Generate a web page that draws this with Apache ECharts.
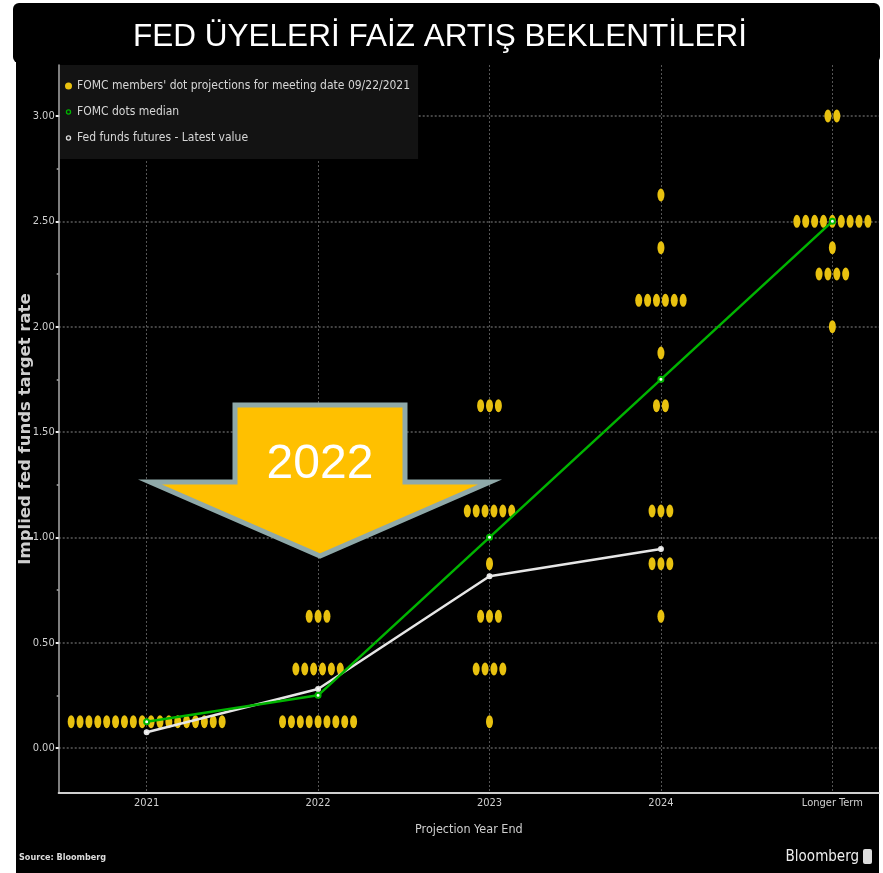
<!DOCTYPE html>
<html>
<head>
<meta charset="utf-8">
<script src="https://cdn.jsdelivr.net/npm/echarts@6/dist/echarts.min.js"></script>
<style>
  html, body { margin: 0; padding: 0; background: #fff; }
  #chart { width: 883px; height: 873px; }
</style>
</head>
<body>
<div id="chart"></div>
<script>
// categories and ticks
const categories = ['2021', '2022', '2023', '2024', 'Longer Term'];
const categoryIdx = [0, 1, 2, 3, 4];
const yTicks = [0, 0.5, 1, 1.5, 2, 2.5, 3];
const yMinorTicks = [0.25, 0.75, 1.25, 1.75, 2.25, 2.75];

// FOMC dot plot: [rate, number of dots] per projection year
const dots2021 = [[0.125, 18]];
const dots2022 = [[0.125, 9], [0.375, 6], [0.625, 3]];
const dots2023 = [[0.125, 1], [0.375, 4], [0.625, 3], [0.875, 1], [1.125, 6], [1.625, 3]];
const dots2024 = [[0.625, 1], [0.875, 3], [1.125, 3], [1.625, 2], [1.875, 1], [2.125, 6], [2.375, 1], [2.625, 1]];
const dotsLonger = [[2.0, 1], [2.25, 4], [2.375, 1], [2.5, 9], [3.0, 2]];

// lines
const medianDots = [0.125, 0.25, 1.0, 1.75, 2.5];
const futuresLatest = [0.075, 0.28, 0.815, 0.945];

const DOTS_NAME = "FOMC members' dot projections for meeting date 09/22/2021";
const MEDIAN_NAME = 'FOMC dots median';
const FUTURES_NAME = 'Fed funds futures - Latest value';

const NARROW = "'Liberation Sans Narrow', 'DejaVu Sans Condensed', sans-serif";
const YELLOW = '#e8c10f';
const GREEN = '#00b400';
const LABEL = '#cfcfcf';

// spread dots of one row side by side around the category
const DOT_STEP = 0.0518;
const dotPoints = [];
[dots2021, dots2022, dots2023, dots2024, dotsLonger].forEach((rows, ci) => {
  rows.forEach(([rate, n]) => {
    for (let i = 0; i < n; i++) {
      dotPoints.push([ci + (i - (n - 1) / 2) * DOT_STEP, rate]);
    }
  });
});

// small ring for the legend (corners keep the box at 7x12)
const smallRing = 'path://M0,0M7,12M3.5,3.3a2.7,2.7,0,1,1,0,5.4a2.7,2.7,0,1,1,0,-5.4zM3.5,4.6a1.4,1.4,0,1,0,0,2.8a1.4,1.4,0,1,0,0,-2.8z';

const chart = echarts.init(document.getElementById('chart'));
chart.setOption({
  animation: false,
  backgroundColor: '#fff',
  grid: { left: 58.7, right: 4, top: 65, bottom: 80 },
  legend: {
    orient: 'vertical',
    left: 60,
    top: 65,
    backgroundColor: '#131313',
    padding: [15, 8, 15, 5],
    itemGap: 14,
    itemWidth: 7,
    itemHeight: 12,
    textStyle: { color: '#d6d6d6', fontFamily: NARROW, fontSize: 12 },
    data: [
      { name: DOTS_NAME, icon: 'circle', itemStyle: { color: YELLOW } },
      { name: MEDIAN_NAME, icon: smallRing, itemStyle: { color: GREEN, borderWidth: 0 } },
      { name: FUTURES_NAME, icon: smallRing, itemStyle: { color: '#ddd', borderWidth: 0 } }
    ]
  },
  xAxis: {
    type: 'value',
    min: -0.513,
    max: 4.272,
    name: 'Projection Year End',
    nameLocation: 'middle',
    nameGap: 30,
    nameTextStyle: { color: LABEL, fontFamily: NARROW, fontSize: 12.5 },
    axisLine: { onZero: false, lineStyle: { color: '#cfcfcf', width: 2 } },
    axisTick: { show: false, customValues: categoryIdx },
    axisLabel: {
      customValues: categoryIdx,
      formatter: v => categories[Math.round(v)],
      color: LABEL, fontFamily: NARROW, fontSize: 11, margin: 5
    },
    splitLine: { show: true, lineStyle: { color: '#555', width: 1, type: [2, 2] } }
  },
  yAxis: [
    {
      type: 'value',
      min: -0.2136,
      max: 3.242,
      name: 'Implied fed funds target rate',
      nameLocation: 'middle',
      nameRotate: 90,
      nameGap: 24,
      nameMoveOverlap: false,
      nameTextStyle: { color: LABEL, fontFamily: 'DejaVu Sans', fontSize: 16.5, fontWeight: 'bold' },
      axisLine: { show: true, onZero: false, lineStyle: { color: '#aaa', width: 1.5 } },
      axisTick: { show: true, customValues: yTicks, length: 3, lineStyle: { color: '#eee', width: 2 } },
      axisLabel: {
        customValues: yTicks,
        formatter: v => v.toFixed(2),
        color: LABEL, fontFamily: NARROW, fontSize: 11, margin: 4
      },
      splitLine: { show: true, lineStyle: { color: '#5a5a5a', width: 1.5, type: [2, 2] } }
    },
    {
      type: 'value',
      position: 'left',
      min: -0.2136,
      max: 3.242,
      axisLine: { show: false, onZero: false },
      axisTick: { show: true, customValues: yMinorTicks, length: 2, lineStyle: { color: '#aaa', width: 1.5 } },
      axisLabel: { show: false },
      splitLine: { show: false }
    }
  ],
  graphic: [
    { type: 'rect', z: -10, silent: true, shape: { x: 16, y: 58, width: 863, height: 815 }, style: { fill: '#000' } },
    { type: 'rect', z: -9, silent: true, shape: { x: 13, y: 3, width: 867, height: 60, r: 6 }, style: { fill: '#000' } },
    {
      type: 'text', z: 10, x: 440, y: 37,
      style: { text: 'FED ÜYELERİ FAİZ ARTIŞ BEKLENTİLERİ', fill: '#fff', font: "31.5px 'Liberation Sans', Arial, sans-serif", align: 'center', verticalAlign: 'middle' }
    },
    {
      type: 'polygon', z: 10,
      shape: { points: [[235, 405], [405, 405], [405, 482], [490, 482], [320, 556], [150, 482], [235, 482]] },
      style: { fill: '#ffc000', stroke: '#8fa9a9', lineWidth: 5, lineJoin: 'miter' }
    },
    {
      type: 'text', z: 11, x: 320, y: 465,
      style: { text: '2022', fill: '#fff', font: "48px 'Liberation Sans', Arial, sans-serif", align: 'center', verticalAlign: 'middle' }
    },
    {
      type: 'text', z: 10, x: 19, y: 858,
      style: { text: 'Source: Bloomberg', fill: '#ddd', font: "bold 9px " + NARROW, verticalAlign: 'middle' }
    },
    {
      type: 'text', z: 10, x: 859, y: 857,
      style: { text: 'Bloomberg', fill: '#eee', font: "15px " + NARROW, align: 'right', verticalAlign: 'middle' }
    },
    { type: 'rect', z: 10, shape: { x: 863, y: 849, width: 9, height: 15, r: 2 }, style: { fill: '#ddd' } }
  ],
  series: [
    {
      name: DOTS_NAME,
      type: 'scatter',
      data: dotPoints,
      symbol: 'circle',
      symbolSize: [7, 13],
      itemStyle: { color: YELLOW, opacity: 1 },
      z: 3
    },
    {
      name: MEDIAN_NAME,
      type: 'line',
      data: medianDots.map((v, i) => [categoryIdx[i], v]),
      symbol: 'emptyCircle',
      symbolSize: 5,
      lineStyle: { color: GREEN, width: 2.5 },
      itemStyle: { color: GREEN },
      z: 5
    },
    {
      name: FUTURES_NAME,
      type: 'line',
      data: futuresLatest.map((v, i) => [categoryIdx[i], v]),
      symbol: 'emptyCircle',
      symbolSize: 4,
      lineStyle: { color: '#e6e6e6', width: 2.5 },
      itemStyle: { color: '#e6e6e6' },
      z: 4
    }
  ]
});
</script>
</body>
</html>
